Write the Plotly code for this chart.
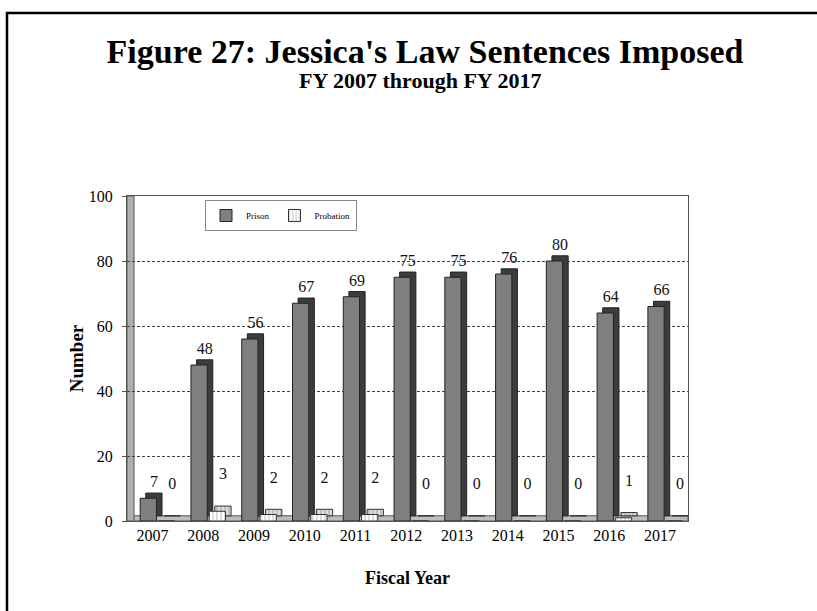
import plotly.graph_objects as go

years = ["2007", "2008", "2009", "2010", "2011", "2012", "2013", "2014", "2015", "2016", "2017"]
prison = [7, 48, 56, 67, 69, 75, 75, 76, 80, 64, 66]
probation = [0, 3, 2, 2, 2, 0, 0, 0, 0, 1, 0]
y_ticks = [0, 20, 40, 60, 80, 100]

FONT = "Liberation Serif"
W = 0.32      # bar front width (category units)
DX = 0.11     # depth shift in x
DY = 1.6      # depth shift in y (data units)
OFF_P = -0.24
OFF_B = 0.12

L, R, T, B = 127, 129, 196, 90
PW = 817 - L - R
PH = 611 - T - B


def px_x(px):
    return (px - L) / PW


def px_y(py):
    return (611 - B - py) / PH


fig = go.Figure()

# depth (side/top) faces
fig.add_trace(go.Bar(x=years, y=prison, base=DY, offset=OFF_P + DX, width=W,
                     marker=dict(color="#3c3c3c", line=dict(color="#222", width=1)),
                     showlegend=False, hoverinfo="skip",
                     text=[str(v) for v in prison], textposition="outside",
                     textfont=dict(family=FONT, size=16, color="#111"), cliponaxis=False))
fig.add_trace(go.Bar(x=years, y=probation, base=DY, offset=OFF_B + DX, width=W,
                     marker=dict(color="#777", line=dict(color="#333", width=1),
                                 pattern=dict(shape="|", fgcolor="#444", bgcolor="#ddd", size=4)),
                     showlegend=False, hoverinfo="skip",
                     text=[f"{v}<br> " for v in probation], textposition="outside",
                     textfont=dict(family=FONT, size=16, color="#111"), cliponaxis=False))
# front faces
fig.add_trace(go.Bar(x=years, y=prison, offset=OFF_P, width=W, name="Prison",
                     marker=dict(color="#7f7f7f", line=dict(color="#222", width=1))))
fig.add_trace(go.Bar(x=years, y=probation, offset=OFF_B, width=W, name="Probation",
                     marker=dict(color="white", line=dict(color="#333", width=1),
                                 pattern=dict(shape="|", fgcolor="#555", bgcolor="white", size=4))))

fig.update_layout(
    width=817, height=611,
    barmode="overlay",
    paper_bgcolor="white", plot_bgcolor="white",
    margin=dict(l=L, r=R, t=T, b=B, autoexpand=False),
    font=dict(family=FONT, color="black"),
    title=dict(text="<b>Figure 27: Jessica's Law Sentences Imposed</b>",
               x=425 / 817, xanchor="center", y=1 - 51 / 611, yanchor="middle",
               font=dict(family=FONT, size=34, color="black")),
    legend=dict(orientation="h", x=px_x(205), y=px_y(200), xanchor="left", yanchor="top",
                bordercolor="#888", borderwidth=1, bgcolor="white", itemwidth=30,
                font=dict(family=FONT, size=9), traceorder="normal"),
    xaxis=dict(type="category", showline=True, linecolor="#555", mirror=True,
               ticks="", tickfont=dict(family=FONT, size=16),
               title=dict(text="<b>Fiscal Year</b>", font=dict(family=FONT, size=18), standoff=28),
               showgrid=False),
    yaxis=dict(range=[0, 100], tickvals=y_ticks, showline=True, linecolor="#555", mirror=True,
               ticks="outside", ticklen=4, tickcolor="#555", ticklabelstandoff=6,
               tickfont=dict(family=FONT, size=16),
               showgrid=True, gridcolor="#444", griddash="3px,2px", gridwidth=1,
               zeroline=False,
               title=dict(text="<b>Number</b>", font=dict(family=FONT, size=19), standoff=0)),
    annotations=[dict(text="<b>FY 2007 through FY 2017</b>", xref="paper", yref="paper",
                      x=px_x(420), y=px_y(81), xanchor="center", yanchor="middle",
                      showarrow=False, font=dict(family=FONT, size=22, color="black"))],
    shapes=[
        dict(type="rect", xref="paper", yref="paper",
             x0=px_x(7), x1=px_x(840), y0=px_y(640), y1=px_y(13),
             line=dict(color="black", width=2.5), fillcolor="rgba(0,0,0,0)", layer="below"),
        dict(type="rect", xref="paper", yref="y", x0=0, x1=1, y0=0, y1=DY,
             fillcolor="#bdbdbd", line=dict(color="#555", width=1), layer="below"),
        dict(type="rect", xref="paper", yref="paper", x0=0, x1=px_x(L + 7), y0=0, y1=1,
             fillcolor="#b0b0b0", line=dict(color="#555", width=1), layer="below"),
    ],
)

fig.write_html("out.html", post_script="document.body.style.margin='0px';",
               config={"displayModeBar": False})
